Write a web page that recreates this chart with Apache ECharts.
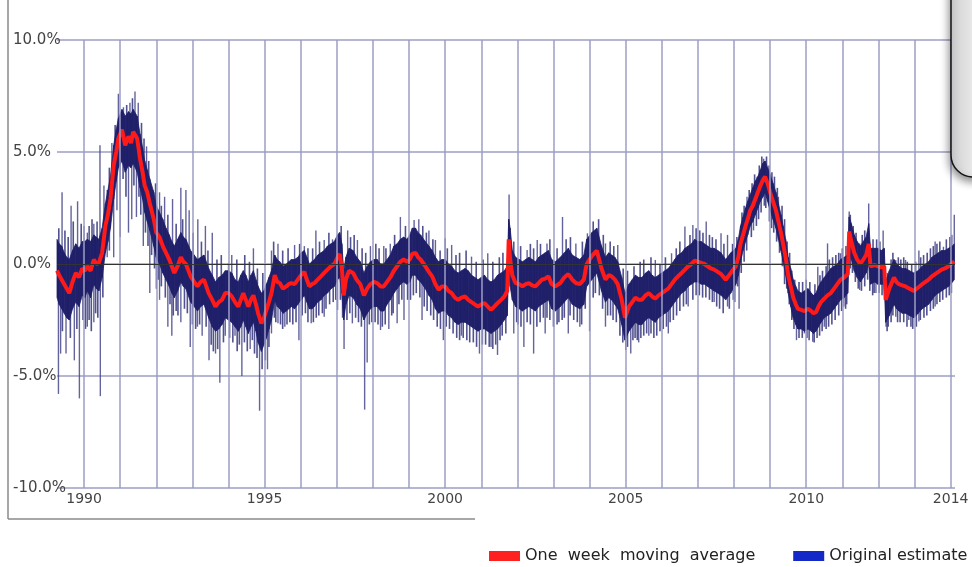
<!DOCTYPE html>
<html><head><meta charset="utf-8">
<script src="https://cdn.jsdelivr.net/npm/echarts@6/dist/echarts.min.js"></script>
<style>html,body{margin:0;padding:0;background:#fff}#c{width:972px;height:567px}</style>
</head><body><div id="c"></div>
<script>
// sample times (decimal years)
const t = [
 1989.25,1989.31,1989.38,1989.45,1989.52,1989.59,1989.68,1989.77,1989.86,1989.95,
 1990.02,1990.09,1990.18,1990.27,1990.34,1990.41,1990.5,1990.59,1990.66,1990.73,1990.82,1990.89,1990.95,
 1991.05,1991.14,1991.23,1991.3,1991.36,1991.47,1991.55,1991.62,1991.68,1991.75,1991.82,1991.93,
 1992.0,1992.09,1992.18,1992.27,1992.36,1992.43,1992.5,1992.59,1992.68,1992.75,1992.82,1992.95,
 1993.05,1993.14,1993.23,1993.32,1993.45,1993.55,1993.64,1993.73,1993.82,1993.91,
 1994.0,1994.09,1994.18,1994.27,1994.34,1994.41,1994.48,1994.55,1994.62,1994.69,1994.76,1994.82,1994.91,1994.98,
 1995.05,1995.12,1995.19,1995.28,1995.35,1995.42,1995.51,1995.6,1995.67,1995.74,1995.83,1995.92,
 1996.01,1996.1,1996.17,1996.24,1996.31,1996.38,1996.47,1996.56,1996.65,1996.74,1996.84,1996.93,
 1997.02,1997.08,1997.14,1997.19,1997.25,1997.34,1997.45,1997.55,1997.65,1997.75,1997.84,1997.93,
 1998.03,1998.12,1998.21,1998.3,1998.39,1998.48,1998.58,1998.67,1998.76,1998.85,1998.94,
 1999.02,1999.09,1999.18,1999.25,1999.32,1999.45,1999.55,1999.64,1999.73,1999.82,1999.91,
 2000.0,2000.09,2000.18,2000.27,2000.36,2000.45,2000.55,2000.64,2000.73,2000.82,2000.91,
 2001.0,2001.09,2001.18,2001.27,2001.36,2001.45,2001.55,2001.64,2001.72,2001.76,2001.8,2001.86,2001.95,
 2002.05,2002.14,2002.23,2002.32,2002.41,2002.5,2002.59,2002.68,2002.77,2002.86,2002.95,
 2003.05,2003.19,2003.3,2003.41,2003.52,2003.62,2003.73,2003.84,2003.92,
 2004.06,2004.2,2004.33,2004.44,2004.53,2004.61,2004.7,2004.78,2004.89,2004.98,
 2005.09,2005.18,2005.27,2005.36,2005.45,2005.55,2005.64,2005.73,2005.82,2005.91,
 2006.0,2006.09,2006.18,2006.27,2006.36,2006.45,2006.55,2006.64,2006.73,2006.82,2006.91,
 2007.0,2007.09,2007.18,2007.27,2007.36,2007.45,2007.55,2007.64,2007.77,2007.91,
 2008.05,2008.12,2008.18,2008.25,2008.32,2008.38,2008.45,2008.52,2008.59,2008.66,2008.73,2008.8,2008.86,2008.93,
 2009.0,2009.08,2009.16,2009.23,2009.3,2009.36,2009.43,2009.5,2009.57,2009.64,2009.71,2009.77,2009.86,2009.95,
 2010.05,2010.14,2010.2,2010.27,2010.34,2010.41,2010.5,2010.59,2010.68,2010.77,2010.86,2010.95,
 2011.05,2011.15,2011.19,2011.25,2011.33,2011.41,2011.5,2011.58,2011.66,2011.73,2011.78,2011.9,2011.98,
 2012.08,2012.16,2012.2,2012.3,2012.43,2012.5,2012.57,2012.66,2012.75,2012.86,2012.98,
 2013.1,2013.21,2013.3,2013.39,2013.48,2013.57,2013.66,2013.75,2013.84,2013.94,2014.05,2014.1
];
// one week moving average (%)
const avg = [
 -0.3,-0.5,-0.7,-0.9,-1.1,-1.3,-0.8,-0.4,-0.6,-0.2,
 -0.3,-0.1,-0.3,0.2,0.0,0.05,0.5,1.7,2.2,2.9,4.4,5.0,5.6,
 6.0,5.3,5.7,5.4,5.9,5.6,4.7,4.1,3.5,3.2,2.7,2.0,
 1.4,1.2,0.8,0.5,0.2,-0.1,-0.4,-0.1,0.3,0.1,0.0,-0.55,
 -0.8,-1.0,-0.8,-0.7,-1.3,-1.6,-1.9,-1.7,-1.6,-1.3,
 -1.3,-1.45,-1.7,-1.9,-1.6,-1.3,-1.6,-1.9,-1.6,-1.4,-1.8,-2.2,-2.65,-2.4,
 -2.05,-1.7,-1.3,-0.5,-0.8,-0.85,-1.1,-1.0,-0.9,-0.85,-0.9,-0.7,
 -0.5,-0.35,-0.7,-1.0,-0.9,-0.85,-0.7,-0.55,-0.4,-0.25,-0.1,0.0,
 0.3,0.45,-0.2,-1.4,-0.7,-0.3,-0.4,-0.7,-0.9,-1.4,-1.1,-0.9,
 -0.8,-0.85,-1.0,-1.0,-0.8,-0.6,-0.3,-0.1,0.1,0.2,0.1,
 0.2,0.45,0.5,0.3,0.2,-0.1,-0.35,-0.55,-0.9,-1.15,-1.0,
 -1.0,-1.2,-1.3,-1.5,-1.6,-1.5,-1.45,-1.6,-1.7,-1.8,-1.9,
 -1.8,-1.75,-1.9,-2.05,-1.9,-1.75,-1.6,-1.45,-1.2,1.1,0.2,-0.5,-0.85,
 -0.9,-1.0,-0.9,-0.85,-0.95,-1.0,-0.85,-0.7,-0.65,-0.55,-0.9,
 -1.0,-0.85,-0.6,-0.45,-0.7,-0.85,-0.9,-0.7,0.0,
 0.35,0.6,-0.2,-0.7,-0.5,-0.55,-0.7,-0.9,-1.6,-2.4,
 -1.9,-1.7,-1.5,-1.6,-1.6,-1.4,-1.3,-1.45,-1.55,-1.4,
 -1.3,-1.2,-1.1,-0.9,-0.7,-0.55,-0.4,-0.25,-0.1,0.0,0.15,
 0.1,0.05,0.0,-0.1,-0.2,-0.25,-0.35,-0.45,-0.7,-0.4,
 -0.1,0.3,0.9,1.3,1.7,2.0,2.4,2.6,2.9,3.2,3.5,3.75,3.9,3.6,
 3.2,2.8,2.4,1.9,1.4,0.9,0.3,-0.5,-1.0,-1.5,-1.8,-2.0,-2.05,-2.1,
 -2.0,-2.1,-2.2,-2.15,-1.9,-1.7,-1.55,-1.4,-1.3,-1.1,-0.9,-0.7,
 -0.6,-0.45,1.45,1.0,0.5,0.2,0.0,0.2,0.4,0.9,-0.1,-0.05,-0.1,
 -0.15,-0.1,-1.6,-1.1,-0.6,-0.8,-0.9,-0.95,-1.0,-1.1,-1.2,
 -1.05,-0.9,-0.8,-0.7,-0.55,-0.45,-0.35,-0.25,-0.2,-0.1,0.05,0.1
];
// original estimate: upper edge of dense band (%)
const hi = [
 1.1,0.9,0.8,0.5,0.3,0.2,0.6,0.9,0.7,1.0,
 1.0,1.1,1.0,1.3,1.2,1.1,1.6,2.7,3.3,3.9,5.3,6.0,6.5,
 6.9,6.6,6.8,6.7,6.9,6.6,5.8,5.2,4.6,4.2,3.8,3.2,
 2.6,2.3,2.0,1.6,1.3,1.0,0.8,1.1,1.4,1.2,1.1,0.6,
 0.4,0.2,0.3,0.4,-0.2,-0.5,-0.8,-0.6,-0.5,-0.3,
 -0.3,-0.4,-0.7,-0.8,-0.5,-0.3,-0.5,-0.8,-0.5,-0.3,-0.7,-1.0,-1.3,-1.2,
 -0.9,-0.6,-0.3,0.4,0.2,0.1,-0.1,0.0,0.1,0.2,0.2,0.3,
 0.5,0.6,0.3,0.0,0.1,0.2,0.4,0.5,0.6,0.8,0.9,1.0,
 1.3,1.4,0.9,-0.3,0.3,0.7,0.6,0.3,0.1,-0.4,-0.1,0.1,
 0.2,0.2,0.0,0.0,0.2,0.4,0.8,0.9,1.1,1.2,1.1,
 1.3,1.6,1.6,1.4,1.3,1.0,0.8,0.6,0.3,0.1,0.2,
 0.2,0.0,-0.1,-0.3,-0.4,-0.3,-0.2,-0.3,-0.5,-0.6,-0.7,
 -0.6,-0.5,-0.7,-0.8,-0.7,-0.5,-0.4,-0.3,-0.1,2.0,1.6,0.6,0.3,
 0.2,0.1,0.2,0.3,0.2,0.1,0.3,0.4,0.5,0.6,0.2,
 0.1,0.3,0.5,0.7,0.4,0.3,0.2,0.4,1.1,
 1.4,1.6,0.8,0.3,0.5,0.4,0.3,0.1,-0.6,-1.3,
 -0.9,-0.7,-0.5,-0.6,-0.6,-0.4,-0.3,-0.5,-0.6,-0.5,
 -0.4,-0.3,-0.2,0.0,0.2,0.4,0.5,0.7,0.8,0.9,1.1,
 1.0,1.0,0.9,0.8,0.7,0.7,0.6,0.5,0.2,0.5,
 0.7,1.1,1.7,2.1,2.5,2.8,3.1,3.4,3.7,3.9,4.2,4.5,4.6,4.3,
 4.0,3.6,3.2,2.7,2.2,1.7,1.1,0.3,-0.2,-0.7,-1.0,-1.2,-1.3,-1.2,
 -1.1,-1.3,-1.4,-1.3,-1.0,-0.8,-0.6,-0.4,-0.2,-0.1,0.0,0.2,
 0.3,0.4,2.1,1.8,1.3,1.0,0.8,1.0,1.2,1.8,0.7,0.7,0.7,
 0.6,0.7,-0.8,-0.3,0.2,0.0,-0.1,-0.2,-0.2,-0.3,-0.4,
 -0.3,-0.1,0.0,0.1,0.3,0.4,0.5,0.6,0.6,0.7,0.8,0.9
];
// original estimate: lower edge of dense band (%)
const lo = [
 -1.5,-1.8,-2.0,-2.2,-2.4,-2.5,-2.0,-1.7,-1.9,-1.4,
 -1.5,-1.2,-1.5,-0.9,-1.1,-1.2,-0.6,0.5,1.0,1.6,2.9,3.7,4.3,
 4.6,4.1,4.4,4.3,4.5,4.1,3.4,2.9,2.3,1.9,1.5,0.8,
 0.3,0.0,-0.4,-0.7,-1.0,-1.3,-1.5,-1.2,-0.8,-1.0,-1.1,-1.7,
 -1.9,-2.1,-1.9,-1.8,-2.4,-2.8,-3.0,-2.9,-2.7,-2.4,
 -2.5,-2.6,-2.8,-3.0,-2.8,-2.5,-2.8,-3.1,-2.8,-2.6,-3.0,-3.5,-3.9,-3.6,
 -3.3,-2.9,-2.5,-1.6,-1.9,-2.0,-2.2,-2.1,-2.0,-1.9,-2.0,-1.8,
 -1.6,-1.4,-1.7,-2.0,-2.0,-1.9,-1.7,-1.6,-1.4,-1.3,-1.1,-1.0,
 -0.7,-0.6,-1.3,-2.5,-1.8,-1.4,-1.5,-1.8,-2.0,-2.5,-2.2,-2.0,
 -1.9,-1.9,-2.1,-2.1,-1.8,-1.6,-1.3,-1.1,-0.9,-0.8,-0.9,
 -0.8,-0.5,-0.5,-0.7,-0.8,-1.1,-1.4,-1.6,-2.0,-2.2,-2.1,
 -2.1,-2.3,-2.4,-2.6,-2.7,-2.6,-2.6,-2.7,-2.8,-2.9,-3.0,
 -2.9,-2.9,-3.0,-3.1,-3.0,-2.9,-2.7,-2.5,-2.3,-0.2,-1.0,-1.6,-1.9,
 -2.0,-2.1,-2.0,-1.9,-2.0,-2.1,-1.9,-1.8,-1.7,-1.6,-2.0,
 -2.1,-1.9,-1.7,-1.5,-1.8,-1.9,-2.0,-1.8,-1.0,
 -0.7,-0.4,-1.2,-1.7,-1.5,-1.6,-1.8,-2.0,-2.7,-3.4,
 -3.0,-2.8,-2.6,-2.7,-2.7,-2.5,-2.4,-2.5,-2.6,-2.4,
 -2.3,-2.2,-2.1,-1.9,-1.7,-1.5,-1.3,-1.2,-1.0,-0.9,-0.8,
 -0.8,-0.9,-0.9,-1.0,-1.1,-1.2,-1.3,-1.4,-1.6,-1.3,
 -0.9,-0.5,0.1,0.6,1.0,1.3,1.7,1.9,2.2,2.5,2.8,3.0,3.2,2.8,
 2.4,2.0,1.6,1.1,0.6,0.1,-0.5,-1.3,-1.9,-2.4,-2.7,-2.9,-2.9,-3.0,
 -2.9,-3.0,-3.1,-3.0,-2.8,-2.6,-2.4,-2.3,-2.2,-2.0,-1.8,-1.6,
 -1.5,-1.3,0.6,0.2,-0.3,-0.6,-0.8,-0.6,-0.4,0.0,-0.9,-0.8,-0.9,
 -0.9,-0.9,-2.6,-2.3,-1.8,-2.0,-2.1,-2.2,-2.2,-2.3,-2.4,
 -2.2,-2.0,-1.9,-1.8,-1.6,-1.4,-1.3,-1.2,-1.1,-1.0,-0.8,-0.7
];
// large isolated daily spikes of the original estimate: time and tip value (%)
const spikeYears = [
 1989.39,1989.64,1989.82,1990.0,1990.09,1990.27,1990.44,1990.55,1990.64,1990.77,1990.95,1991.09,1991.27,1991.41,1991.5,
 1991.73,1991.91,1992.09,1992.23,1992.45,1992.68,1992.82,1992.91,1993.15,1993.36,1993.55,1994.0,1994.09,1994.69,
 1995.19,1995.37,1995.83,1996.1,1996.42,1996.65,1996.88,1997.07,1997.3,1997.57,1997.93,1998.3,1998.48,1998.76,
 1999.14,1999.27,1999.55,1999.73,2000.0,2000.18,2000.73,2001.18,2001.77,2002.27,2002.55,2002.82,2003.25,2003.62,
 2003.94,2004.44,2004.78,2005.82,2006.27,2006.64,2006.86,2007.23,2007.64,2007.82,2008.36,2008.64,2008.82,2009.23,
 2010.32,2010.59,2010.95,2011.19,2011.48,2011.73,2012.13,2012.48,2012.75,2013.12,2013.57,2013.8,2014.1,
 1989.29,1989.35,1989.5,1989.73,1989.87,1990.09,1990.27,1990.45,1990.64,1990.82,1990.91,1991.0,1991.23,1991.32,
 1991.45,1991.64,1991.82,1992.0,1992.09,1992.32,1992.43,1992.68,1992.94,1993.14,1993.27,1993.46,1993.64,1993.76,
 1993.91,1994.18,1994.37,1994.6,1994.86,1995.08,1995.19,1995.37,1995.56,1995.95,1996.29,1996.65,1997.02,1997.2,
 1997.43,1997.77,1997.84,1998.21,1998.44,1998.67,1998.86,1999.36,1999.95,2000.45,2000.95,2001.27,2001.45,2001.9,
 2002.18,2002.45,2002.77,2003.41,2003.73,2004.0,2004.44,2005.0,2005.14,2005.36,2005.64,2006.18,2006.73,2007.45,
 2007.82,2008.14,2008.54,2009.73,2009.95,2010.18,2010.5,2011.04,2011.48,2011.93,2012.21,2012.48,2012.84,2013.12,2013.57
];
const spikeTips = [
 3.2,2.6,2.8,1.7,1.4,1.8,5.3,3.5,3.3,5.4,7.6,7.0,7.2,7.7,7.2,
 5.25,3.3,3.2,3.0,2.9,3.4,3.3,2.4,2.0,1.7,1.4,0.05,0.4,0.7,
 0.6,0.9,0.85,0.8,1.5,1.07,1.1,1.4,1.5,1.07,0.8,0.8,0.9,2.1,
 1.96,2.0,1.5,1.07,1.15,0.85,0.33,0.48,3.1,0.62,1.07,0.92,2.1,0.92,
 1.37,0.92,0.85,0.18,0.48,1.67,1.74,1.9,1.37,1.3,3.0,3.9,4.7,3.0,
 -0.12,0.92,0.48,2.34,0.92,2.7,1.5,0.18,0.18,0.6,1.0,0.77,2.2,
 -5.8,-4.0,-4.0,-4.3,-6.0,-2.8,-2.6,-5.9,0.3,0.3,2.4,1.2,1.4,2.0,
 2.1,0.8,-1.3,-1.1,-1.6,-2.8,-3.2,-2.6,-3.7,-2.8,-3.2,-4.3,-4.0,-5.3,
 -3.2,-3.2,-5.0,-3.8,-6.55,-4.7,-3.1,-2.65,-2.8,-3.4,-2.65,-2.35,-2.05,-3.8,
 -2.65,-6.5,-4.4,-2.95,-2.9,-2.65,-2.5,-2.5,-3.4,-3.2,-4.0,-3.7,-4.06,-3.1,
 -3.7,-4.0,-3.1,-3.1,-2.8,-3.0,-2.8,-3.84,-4.0,-3.5,-3.2,-3.1,-1.9,-1.7,
 -1.9,-2.0,1.5,-3.4,-3.1,-3.47,-2.8,-1.9,-1.16,-1.3,-2.8,-2.35,-2.5,-2.57,-1.9
];
// smaller daily excursions just outside the dense band (fringe): time and tip value (%)
const fringeYears = [
 1989.3,1989.47,1989.56,1989.7,1989.92,1990.14,1990.22,1990.36,1990.7,1990.86,1991.18,1991.34,1991.59,1991.66,1991.79,1991.98,
 1992.14,1992.32,1992.55,1992.73,1993.02,1993.25,1993.43,1993.68,1993.8,1994.23,1994.45,1994.58,1994.8,1994.95,1995.25,1995.5,
 1995.65,1995.97,1996.2,1996.33,1996.52,1996.78,1997.12,1997.38,1997.48,1997.7,1997.8,1998.08,1998.17,1998.36,1998.6,1998.9,
 1999.38,1999.48,1999.66,1999.86,2000.06,2000.3,2000.4,2000.58,2000.86,2001.05,2001.32,2001.5,2001.6,2001.9,2002.09,2002.36,
 2002.45,2002.64,2002.9,2003.1,2003.35,2003.47,2003.8,2004.1,2004.25,2004.38,2004.57,2004.67,2004.93,2005.05,2005.23,2005.4,
 2005.5,2005.7,2005.95,2006.1,2006.4,2006.5,2006.78,2006.95,2007.05,2007.14,2007.32,2007.4,2007.5,2007.72,2007.96,2008.08,
 2008.22,2008.28,2008.42,2008.5,2008.57,2008.7,2008.77,2008.9,2008.97,2009.05,2009.12,2009.2,2009.33,2009.4,2009.47,2009.54,
 2009.6,2009.68,2009.8,2009.9,2010.0,2010.1,2010.24,2010.38,2010.45,2010.55,2010.64,2010.73,2010.82,2010.9,2011.0,2011.1,
 2011.22,2011.3,2011.38,2011.55,2011.62,2011.85,2011.95,2012.04,2012.25,2012.35,2012.4,2012.55,2012.62,2012.7,2012.8,2012.92,
 2013.03,2013.17,2013.25,2013.35,2013.44,2013.52,2013.62,2013.7,2013.88,2013.98,2014.03,
 1989.4,1989.62,1989.8,1989.97,1990.04,1990.14,1990.2,1990.32,1990.38,1990.52,1990.7,1991.08,1991.16,1991.38,1991.52,1991.57,
 1991.7,1991.77,1991.87,1991.95,1992.05,1992.14,1992.25,1992.38,1992.47,1992.55,1992.6,1992.78,1992.86,1993.0,1993.09,1993.2,
 1993.38,1993.52,1993.58,1993.7,1993.86,1994.03,1994.12,1994.24,1994.3,1994.44,1994.52,1994.66,1994.72,1994.79,1994.93,1995.02,
 1995.12,1995.27,1995.31,1995.44,1995.5,1995.62,1995.7,1995.78,1995.87,1996.04,1996.13,1996.2,1996.35,1996.43,1996.5,1996.6,
 1996.7,1996.8,1996.9,1996.97,1997.1,1997.16,1997.28,1997.36,1997.52,1997.6,1997.68,1997.9,1997.97,1998.06,1998.14,1998.26,
 1998.34,1998.52,1998.56,1998.72,1998.8,1998.96,1999.04,1999.12,1999.2,1999.3,1999.42,1999.5,1999.6,1999.68,1999.78,1999.87,
 2000.03,2000.12,2000.22,2000.32,2000.4,2000.5,2000.6,2000.68,2000.78,2000.87,2001.03,2001.12,2001.22,2001.32,2001.4,2001.52,
 2001.58,2001.68,2001.98,2002.02,2002.1,2002.27,2002.36,2002.54,2002.63,2002.72,2002.82,2002.9,2003.0,2003.1,2003.15,2003.24,
 2003.3,2003.46,2003.56,2003.66,2003.78,2003.88,2004.1,2004.16,2004.27,2004.36,2004.5,2004.58,2004.65,2004.74,2004.84,2004.92,
 2005.05,2005.2,2005.26,2005.32,2005.42,2005.5,2005.58,2005.7,2005.78,2005.86,2005.95,2006.04,2006.13,2006.23,2006.32,2006.41,
 2006.5,2006.6,2006.68,2006.86,2006.95,2007.04,2007.13,2007.22,2007.32,2007.4,2007.52,2007.6,2007.7,2007.87,2007.98,2008.02,
 2008.1,2008.2,2008.28,2008.35,2008.48,2008.62,2008.68,2008.75,2008.84,2008.88,2008.98,2009.04,2009.1,2009.18,2009.26,2009.34,
 2009.4,2009.46,2009.53,2009.6,2009.66,2009.8,2009.89,2010.02,2010.08,2010.22,2010.3,2010.37,2010.44,2010.55,2010.62,2010.71,
 2010.8,2010.9,2010.98,2011.09,2011.12,2011.22,2011.28,2011.36,2011.44,2011.53,2011.62,2011.7,2011.76,2011.84,2011.88,2012.02,
 2012.1,2012.24,2012.27,2012.35,2012.4,2012.53,2012.6,2012.7,2012.79,2012.9,2012.95,2013.05,2013.16,2013.26,2013.34,2013.44,
 2013.52,2013.62,2013.7,2013.78,2013.88,2013.96,2014.02
];
const fringeTips = [
 1.6,1.5,1.2,1.9,1.8,1.7,2.0,1.9,4.3,6.2,7.1,7.4,6.3,5.6,4.6,3.6,
 2.6,2.2,1.8,2.0,1.4,1.0,0.6,0.2,0.4,0.2,0.4,0.1,-0.2,-0.4,1.0,0.6,
 0.7,0.9,0.7,0.7,1.0,1.4,1.7,1.2,1.3,0.7,0.5,0.9,0.7,0.7,1.3,1.7,
 1.7,1.4,1.1,0.6,0.7,0.4,0.5,0.6,0.1,0.2,0.1,0.3,0.5,1.0,0.8,0.9,
 0.7,0.9,1.1,0.7,1.1,1.2,1.0,1.9,2.0,1.3,1.0,0.8,-0.2,-0.3,-0.1,0.1,
 0.2,0.3,0.0,0.3,0.7,1.0,1.3,1.6,1.5,1.4,1.3,1.2,1.1,0.9,0.9,1.2,
 2.3,2.6,3.3,3.6,4.0,4.4,4.8,4.8,4.4,4.1,3.9,3.4,2.6,2.0,1.0,0.5,
 -0.3,-0.7,-0.8,-0.8,-0.7,-0.8,-0.9,-0.5,-0.3,-0.1,0.2,0.3,0.4,0.5,0.7,0.8,
 2.2,1.7,1.4,1.3,1.5,1.1,1.1,1.0,-0.4,0.2,0.5,0.3,0.2,0.3,0.1,0.0,
 0.1,0.3,0.4,0.5,0.7,0.8,0.9,1.0,1.1,1.2,1.3,
 -3.0,-3.3,-2.9,-2.5,-2.9,-2.5,-3.0,-2.2,-2.4,-1.5,0.6,3.8,3.0,3.5,3.0,2.2,
 1.4,0.8,0.4,-0.2,-0.7,-1.0,-1.5,-1.8,-2.3,-2.1,-2.3,-2.0,-2.2,-2.7,-2.9,-2.7,
 -2.8,-3.6,-3.9,-3.8,-3.5,-3.3,-3.5,-3.9,-3.6,-3.5,-3.9,-3.4,-4.0,-4.2,-4.7,-4.3,
 -3.7,-2.4,-2.6,-2.7,-2.9,-2.7,-2.6,-2.7,-2.6,-2.3,-2.2,-2.6,-2.6,-2.4,-2.3,-2.2,
 -2.0,-1.8,-1.7,-1.6,-1.6,-2.4,-2.5,-2.2,-2.4,-2.6,-2.8,-2.7,-2.6,-2.6,-2.7,-2.8,
 -2.7,-2.3,-2.2,-1.8,-1.6,-1.6,-1.6,-1.4,-1.3,-1.5,-1.9,-2.1,-2.3,-2.5,-2.8,-2.9,
 -2.8,-2.9,-3.1,-3.3,-3.4,-3.3,-3.4,-3.5,-3.5,-3.7,-3.6,-3.6,-3.7,-3.8,-3.6,-3.4,
 -3.2,-3.1,-2.6,-2.7,-2.8,-2.6,-2.7,-2.8,-2.6,-2.4,-2.4,-2.5,-2.8,-2.7,-2.6,-2.5,
 -2.4,-2.3,-2.5,-2.6,-2.7,-2.0,-1.5,-1.3,-1.4,-2.0,-2.3,-2.3,-2.5,-2.6,-3.2,-3.5,
 -3.7,-3.4,-3.3,-3.4,-3.3,-3.2,-3.1,-3.1,-3.3,-3.2,-3.0,-2.9,-2.8,-2.6,-2.5,-2.3,
 -2.1,-1.9,-1.8,-1.6,-1.4,-1.4,-1.5,-1.5,-1.6,-1.7,-1.9,-2.0,-2.2,-2.0,-1.6,-1.7,
 -1.0,-0.4,0.1,0.6,1.2,1.7,2.0,2.3,2.6,2.5,1.9,1.6,1.4,1.0,0.5,-0.1,
 -0.9,-1.1,-1.8,-2.5,-2.9,-3.3,-3.3,-3.3,-3.4,-3.5,-3.3,-3.2,-3.0,-2.9,-2.8,-2.7,
 -2.5,-2.3,-2.1,-2.0,-1.8,-0.2,-0.4,-0.8,-1.1,-1.2,-1.0,-0.7,-1.2,-1.4,-1.3,-1.3,
 -1.4,-3.0,-2.8,-2.6,-2.3,-2.6,-2.6,-2.6,-2.8,-2.8,-2.9,-2.8,-2.5,-2.4,-2.3,-2.1,
 -2.0,-1.8,-1.7,-1.6,-1.5,-1.4,-1.3
];
const gridYears = [1990,1991,1992,1993,1994,1995,1996,1997,1998,1999,2000,2001,2002,2003,2004,2005,2006,2007,2008,2009,2010,2011,2012,2013,2014];
const labelYears = [1990,1995,2000,2005,2010,2014];
const yTicks = {min:-10, max:10, step:5};

function nearestAvg(y){
  let b = 0, d = Infinity;
  for (let i = 0; i < t.length; i++){ const e = Math.abs(t[i]-y); if (e < d){ d = e; b = i; } }
  return avg[b];
}
const bandData = [];
for (let i = 0; i < t.length - 1; i++) bandData.push([t[i], lo[i], hi[i], t[i+1], lo[i+1], hi[i+1]]);
const spikeData = spikeYears.map((y,i) => [y, spikeTips[i], nearestAvg(y)]);
const fringeData = fringeYears.map((y,i) => [y, fringeTips[i], nearestAvg(y)]);
const avgData = t.map((y,i) => [y, avg[i]]);

const GRID = '#9c9cc6';
const NAVY = '#1f1f6a';
function spikeRender(color, width){
  return (p, api) => {
    const a = api.coord([api.value(0), api.value(1)]);
    const b = api.coord([api.value(0), api.value(2)]);
    return {type:'line', shape:{x1:a[0], y1:a[1], x2:b[0], y2:b[1]},
      style:{stroke:color, lineWidth:width}};
  };
}
const chart = echarts.init(document.getElementById('c'), null, {renderer:'canvas'});
chart.setOption({
  animation:false,
  backgroundColor:'#ffffff',
  grid:{left:57, right:17, top:40, bottom:79, containLabel:false},
  xAxis:{type:'value', min:1989.25, max:2014.12,
    axisLine:{show:false}, axisTick:{show:false}, splitLine:{show:false},
    axisLabel:{customValues:labelYears, formatter:v=>String(v), color:'#444', fontSize:14,
      fontFamily:'DejaVu Sans', margin:4}},
  yAxis:{type:'value', min:yTicks.min, max:yTicks.max, interval:yTicks.step,
    axisLine:{show:false}, axisTick:{show:false},
    splitLine:{lineStyle:{color:GRID, width:1.5}},
    axisLabel:{formatter:v=>v.toFixed(1)+'%', align:'left', margin:44, color:'#444', fontSize:15, fontFamily:'DejaVu Sans'}},
  legend:{left:489, top:548, width:700, padding:0, itemWidth:31, itemHeight:10, itemGap:38, icon:'rect',
    textStyle:{fontSize:16, color:'#222', fontFamily:'DejaVu Sans'},
    formatter:n => n === 'One week moving average' ? 'One  week  moving  average' : n,
    data:[{name:'One week moving average', itemStyle:{color:'#ff2020'}},
          {name:'Original estimate', itemStyle:{color:'#1428c8'}}]},
  graphic:[
    {type:'line', shape:{x1:8,y1:0,x2:8,y2:519}, style:{stroke:'#8a8a8a', lineWidth:1.5}, z:100},
    {type:'line', shape:{x1:8,y1:519,x2:475,y2:519}, style:{stroke:'#8a8a8a', lineWidth:1.5}, z:100},
    {type:'rect', shape:{x:951, y:-40, width:45, height:217, r:22}, z:100,
      style:{fill:{type:'linear', x:0, y:0, x2:1, y2:0, colorStops:[{offset:0,color:'#cfcfcf'},{offset:0.5,color:'#e9e9e9'},{offset:1,color:'#f2f2f2'}]},
        stroke:'#151515', lineWidth:1.5, shadowBlur:8, shadowOffsetX:-1, shadowOffsetY:4, shadowColor:'rgba(0,0,0,0.45)'}}
  ],
  series:[
    {type:'line', data:[], z:1, silent:true,
      markLine:{symbol:'none', silent:true, label:{show:false}, animation:false,
        lineStyle:{color:GRID, width:1.5, type:'solid'},
        data: gridYears.map(y => ({xAxis:y})).concat([{yAxis:0, lineStyle:{color:'#333', width:1, type:'solid'}}])}},
    {type:'custom', name:'Original estimate', z:2, silent:true, data:spikeData, encode:{x:0, y:[1,2]},
      renderItem:spikeRender('rgba(72,72,140,0.85)', 1.4)},
    {type:'custom', name:'Original estimate', z:2, silent:true, data:fringeData, encode:{x:0, y:[1,2]},
      renderItem:spikeRender('rgba(52,52,125,0.85)', 1.6)},
    {type:'custom', name:'Original estimate', z:3, silent:true, data:bandData, encode:{x:[0,3], y:[1,2,4,5]},
      itemStyle:{color:NAVY},
      renderItem:(p, api) => {
        const p1 = api.coord([api.value(0), api.value(1)]);
        const p2 = api.coord([api.value(0), api.value(2)]);
        const p3 = api.coord([api.value(3), api.value(5)]);
        const p4 = api.coord([api.value(3), api.value(4)]);
        return {type:'polygon', shape:{points:[p1,p2,p3,p4]},
          style:{fill:NAVY, stroke:NAVY, lineWidth:0.8}};
      }},
    {type:'line', name:'One week moving average', z:4, data:avgData, showSymbol:false, symbol:'none',
      lineStyle:{color:'#ff1a1a', width:4}, itemStyle:{color:'#ff1a1a'}}
  ]
});
</script>
</body></html>
